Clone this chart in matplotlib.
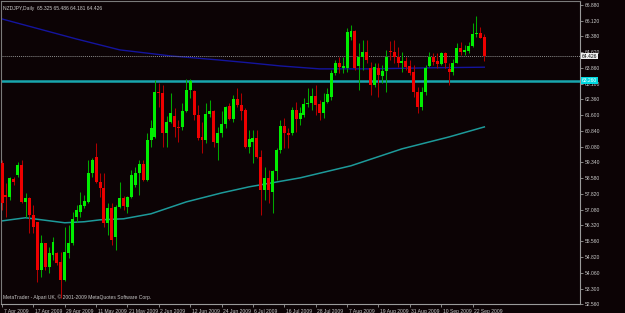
import matplotlib
matplotlib.use("Agg")
import matplotlib.pyplot as plt
import matplotlib.transforms as mtransforms

# NZDJPY daily candles, 7 Apr 2009 .. 25 Sep 2009
opens = [59.32, 57.79, 57.69, 58.55, 58.75, 59.22, 57.45, 57.65, 56.83, 56.50,
         54.20, 55.49, 54.34, 54.92, 55.01, 54.58, 53.72, 55.01, 55.49, 56.74,
         56.98, 57.26, 57.45, 58.84, 59.61, 58.41, 58.12, 56.45, 57.17, 55.78,
         57.21, 57.65, 57.21, 57.69, 58.27, 58.84, 59.27, 58.51, 60.42, 60.56,
         62.72, 62.67, 60.76, 61.28, 61.57, 61.04, 61.04, 61.81, 62.81, 62.76,
         61.62, 60.56, 60.42, 61.66, 61.81, 60.28, 60.76, 61.19, 62.05, 61.43,
         62.38, 62.09, 61.86, 60.08, 60.32, 60.52, 59.61, 58.03, 58.60, 57.93,
         58.94, 59.94, 61.09, 60.76, 60.76, 61.86, 61.43, 61.62, 62.14, 62.19,
         62.53, 62.14, 61.71, 62.24, 62.48, 63.63, 64.11, 63.87, 63.87, 65.35,
         65.64, 63.96, 64.39, 64.63, 63.87, 63.05, 63.87, 63.48, 63.72, 64.68,
         64.63, 64.39, 64.11, 64.20, 63.96, 63.67, 62.72, 62.00, 62.72, 63.96,
         64.39, 64.20, 64.06, 64.58, 63.82, 63.67, 64.11, 64.82, 64.63, 64.68,
         64.92, 65.49, 65.54, 65.325]
highs = [59.46, 58.36, 58.65, 58.65, 59.37, 59.46, 57.88, 57.69, 57.31, 56.50,
         55.87, 55.49, 55.30, 55.78, 55.06, 55.06, 56.26, 56.35, 56.98, 57.31,
         57.93, 57.79, 59.46, 59.56, 60.28, 58.84, 58.84, 57.41, 57.41, 57.31,
         58.41, 57.74, 57.72, 58.99, 59.13, 59.46, 59.46, 60.76, 61.38, 63.29,
         63.15, 63.05, 61.57, 62.67, 61.95, 61.38, 62.19, 63.34, 63.34, 62.81,
         62.09, 61.28, 62.19, 62.33, 61.86, 61.04, 61.81, 62.05, 62.19, 62.57,
         62.91, 62.67, 61.95, 60.90, 60.90, 60.90, 59.94, 59.13, 58.99, 58.99,
         60.04, 61.38, 61.47, 60.99, 62.00, 62.24, 62.00, 62.43, 62.91, 62.91,
         63.05, 62.33, 62.67, 62.91, 63.77, 64.25, 64.39, 64.39, 65.78, 65.92,
         65.68, 65.06, 65.21, 65.21, 64.15, 64.11, 64.11, 64.01, 64.73, 65.16,
         65.21, 64.87, 64.63, 64.39, 64.25, 64.01, 62.96, 62.96, 64.01, 64.63,
         64.58, 64.58, 64.63, 64.63, 64.11, 64.30, 65.06, 65.11, 64.97, 65.11,
         66.02, 66.35, 65.83, 65.486]
lows = [57.07, 56.74, 57.55, 58.27, 58.65, 57.41, 56.74, 55.97, 55.97, 53.63,
        53.86, 54.20, 54.06, 54.68, 54.44, 52.86, 53.68, 54.77, 55.40, 56.50,
        56.74, 57.17, 57.41, 58.65, 58.36, 57.69, 56.26, 55.87, 55.40, 55.16,
        57.17, 57.07, 56.93, 57.65, 58.17, 57.79, 58.46, 58.46, 60.08, 60.52,
        62.00, 60.08, 60.08, 61.23, 60.56, 60.32, 60.90, 61.76, 62.43, 61.38,
        60.42, 59.80, 60.28, 61.52, 60.08, 59.46, 60.56, 60.99, 61.38, 61.28,
        62.00, 61.38, 60.04, 59.80, 59.32, 59.56, 56.83, 57.55, 57.41, 56.93,
        58.51, 59.80, 60.04, 60.04, 60.66, 60.80, 61.14, 61.52, 62.00, 61.86,
        61.62, 61.38, 61.47, 62.19, 62.33, 63.53, 63.63, 63.63, 63.67, 65.21,
        63.77, 62.81, 63.77, 64.11, 62.57, 62.96, 62.48, 63.15, 62.72, 64.25,
        64.11, 63.91, 63.67, 63.77, 63.53, 62.48, 61.71, 61.86, 62.57, 63.91,
        64.01, 63.87, 64.01, 63.87, 63.05, 63.53, 64.08, 64.49, 64.49, 64.58,
        64.87, 65.35, 65.28, 64.181]
closes = [57.41, 57.69, 58.60, 58.41, 59.22, 57.45, 57.65, 56.83, 56.26, 54.20,
          55.49, 54.34, 55.01, 55.54, 54.54, 53.72, 55.06, 55.49, 56.64, 57.07,
          57.31, 57.50, 58.84, 59.46, 58.41, 58.12, 56.45, 57.17, 55.64, 57.21,
          57.65, 57.26, 57.69, 58.75, 58.84, 59.27, 58.51, 60.42, 60.99, 62.72,
          62.67, 60.76, 61.28, 61.71, 61.04, 60.99, 61.81, 62.81, 63.24, 61.62,
          60.52, 60.42, 61.66, 61.81, 60.32, 60.76, 61.19, 62.00, 61.43, 62.38,
          62.09, 61.81, 60.08, 60.47, 60.52, 59.61, 58.03, 58.60, 58.03, 58.94,
          59.94, 61.09, 60.76, 60.66, 61.86, 61.43, 61.71, 62.14, 62.19, 62.53,
          62.09, 61.71, 62.24, 62.62, 63.63, 64.11, 63.91, 63.96, 65.59, 65.64,
          63.87, 64.39, 64.63, 64.25, 63.05, 63.91, 63.53, 63.72, 64.39, 64.63,
          64.39, 64.11, 64.20, 63.91, 63.63, 62.72, 62.00, 62.72, 63.87, 64.39,
          64.15, 64.06, 64.58, 64.11, 63.67, 64.11, 64.82, 64.63, 64.73, 64.92,
          65.49, 65.54, 65.30, 64.426]

# moving averages, sampled at bar indices
ma_slow_idx = [0, 19, 30, 43, 55, 63, 71, 81, 94, 109, 123]
ma_slow_val = [66.21, 65.25, 64.73, 64.44, 64.25, 64.11, 63.96, 63.82, 63.82, 63.87, 63.90]
ma_fast_idx = [0, 6, 16, 21, 25, 31, 38, 47, 56, 63, 76, 89, 102, 114, 123]
ma_fast_val = [56.54, 56.69, 56.45, 56.50, 56.59, 56.64, 56.88, 57.45, 57.88, 58.17,
               58.60, 59.18, 59.99, 60.56, 61.04]

level_line = 63.26
bid = 64.426

date_labels = ["7 Apr 2009", "17 Apr 2009", "29 Apr 2009", "11 May 2009", "21 May 2009",
               "2 Jun 2009", "12 Jun 2009", "24 Jun 2009", "6 Jul 2009", "16 Jul 2009",
               "28 Jul 2009", "7 Aug 2009", "19 Aug 2009", "31 Aug 2009", "10 Sep 2009",
               "22 Sep 2009"]
price_ticks = [66.880, 66.120, 65.380, 64.620, 63.860, 63.100, 62.360, 61.600, 60.840,
               60.080, 59.340, 58.580, 57.820, 57.080, 56.320, 55.560, 54.820, 54.060,
               53.300, 52.560]

BG = "#0c0305"
GRID = "#9a9a9a"
TXT = "#c8c8c8"
UP = "#00ee00"
DN = "#ee0000"
UPW = "#00a800"
DNW = "#b00000"
FS = 3.6

plt.rcParams["font.family"] = ["Liberation Sans", "DejaVu Sans"]

W, H = 625, 313
fig = plt.figure(figsize=(W / 100, H / 100), dpi=100, facecolor=BG)
ax = fig.add_axes([1 / W, 9 / H, 579 / W, 303 / H], facecolor=BG)

n = len(opens)
xs = list(range(n))

# wicks
for i in xs:
    col = UPW if closes[i] >= opens[i] else DNW
    ax.vlines(i, lows[i], highs[i], color=col, lw=0.75, zorder=2)

# bodies
for i in xs:
    up = closes[i] >= opens[i]
    lo = min(opens[i], closes[i])
    h = max(abs(closes[i] - opens[i]), 0.035)
    ax.bar(i, h, bottom=lo, width=0.76, color=UP if up else DN, linewidth=0, zorder=3)

ax.plot(ma_slow_idx, ma_slow_val, color="#14149e", lw=1.0, zorder=1)
ax.plot(ma_fast_idx, ma_fast_val, color="#1d9a9a", lw=1.1, zorder=1)
ax.axhline(level_line, color="#19a6ae", lw=1.8, zorder=1)
ax.axhline(bid, color="#8a8a8a", lw=0.7, ls=(0, (1, 1)), zorder=1)

ax.set_xlim(-0.26, 147.4)
ax.set_ylim(52.56, 67.07)

for s in ["left", "top"]:
    ax.spines[s].set_color("#7a7a7a")
    ax.spines[s].set_linewidth(0.8)
for s in ["right", "bottom"]:
    ax.spines[s].set_color(GRID)
    ax.spines[s].set_linewidth(0.8)

ax.yaxis.tick_right()
ax.set_yticks(price_ticks)
ax.set_yticklabels([f"{v:.3f}" for v in price_ticks])
ax.tick_params(axis="y", colors=GRID, labelcolor=TXT, labelsize=FS, length=2.5,
               width=0.6, pad=1)
ax.set_xticks([8 * k for k in range(len(date_labels))])
ax.set_xticklabels(date_labels, ha="left")
ax.tick_params(axis="x", colors=GRID, labelcolor=TXT, labelsize=FS, length=2.5,
               width=0.6, pad=0.8)
for lab in ax.get_xticklabels():
    lab.set_transform(lab.get_transform() + mtransforms.ScaledTranslation(1.5 / 100, 0, fig.dpi_scale_trans))

# price boxes on the right scale
tr = mtransforms.blended_transform_factory(ax.transAxes, ax.transData)
ax.text(1.003, bid, f"{bid:.3f}", transform=tr, fontsize=FS, color="#000000",
        va="center", ha="left", zorder=5, clip_on=False,
        bbox=dict(boxstyle="square,pad=0.15", fc="#f0f0f0", ec="none"))
ax.text(1.003, level_line, "63.260", transform=tr, fontsize=FS, color="#ffffff",
        va="center", ha="left", zorder=5, clip_on=False,
        bbox=dict(boxstyle="square,pad=0.15", fc="#00d8e0", ec="none"))

ax.text(0.004, 0.985, "NZDJPY,Daily  65.325 65.486 64.181 64.426", transform=ax.transAxes,
        fontsize=FS, color=TXT, va="top", ha="left")
ax.text(0.004, 0.012, "MetaTrader - Alpari UK, \u00a9 2001-2009 MetaQuotes Software Corp.",
        transform=ax.transAxes, fontsize=FS, color=TXT, va="bottom", ha="left")

fig.savefig("out.png", dpi=100, facecolor=BG)
